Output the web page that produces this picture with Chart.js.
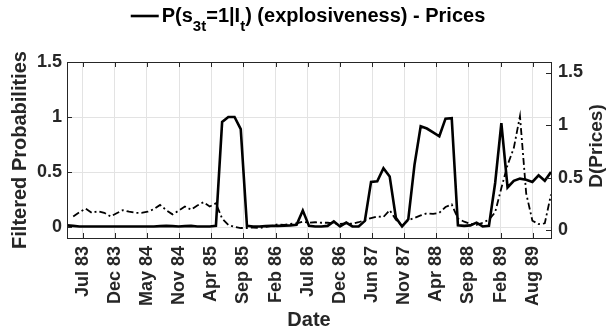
<!DOCTYPE html>
<html lang="en">
<head>
<meta charset="UTF-8">
<title>Filtered probabilities - Prices</title>
<script src="https://cdn.jsdelivr.net/npm/chart.js"></script>
<style>
  body { margin: 0; background: #fff; }
  canvas { display: block; }
</style>
</head>
<body>
<canvas id="chart" width="616" height="335"></canvas>
<script>
// monthly observations, index 0 = first month shown
const probExplosive = [
  0.015, 0.01, 0.005, 0.005, 0.005, 0.005, 0.005, 0.005, 0.005, 0.005,
  0.005, 0.005, 0.005, 0.005, 0.005, 0.008, 0.01, 0.008, 0.005, 0.008,
  0.01, 0.005, 0.005, 0.005, 0.01, 0.955, 1.0, 1.0, 0.89, 0.01,
  0.005, 0.005, 0.008, 0.01, 0.01, 0.012, 0.015, 0.02, 0.15, 0.01,
  0.005, 0.005, 0.01, 0.05, 0.005, 0.04, 0.005, 0.005, 0.055, 0.41,
  0.415, 0.535, 0.46, 0.085, 0.005, 0.07, 0.565, 0.915, 0.895, 0.86,
  0.825, 0.985, 0.99, 0.015, 0.01, 0.015, 0.04, 0.005, 0.01, 0.40,
  0.945, 0.36, 0.42, 0.44, 0.43, 0.41, 0.47, 0.42, 0.5
];
const dPrices = [
  null, 0.13, 0.17, 0.205, 0.165, 0.18, 0.165, 0.13, 0.16, 0.19,
  0.175, 0.165, 0.165, 0.175, 0.2, 0.24, 0.19, 0.15, 0.185, 0.225,
  0.195, 0.235, 0.265, 0.225, 0.255, 0.11, 0.05, 0.03, 0.02, 0.02,
  0.025, 0.02, 0.03, 0.04, 0.055, 0.05, 0.06, 0.065, 0.08, 0.07,
  0.075, 0.07, 0.07, 0.065, 0.06, 0.065, 0.06, 0.075, 0.095, 0.115,
  0.13, 0.125, 0.19, 0.1, 0.04, 0.095, 0.115, 0.14, 0.16, 0.155,
  0.165, 0.22, 0.245, 0.11, 0.08, 0.06, 0.05, 0.07, 0.1, 0.17,
  0.4, 0.62, 0.78, 1.085, 0.35, 0.09, 0.057, 0.065, 0.34
];
const dateTickLabels = ['Jul 83', 'Dec 83', 'May 84', 'Nov 84', 'Apr 85', 'Sep 85', 'Feb 86',
  'Jul 86', 'Dec 86', 'Jun 87', 'Nov 87', 'Apr 88', 'Sep 88', 'Feb 89', 'Aug 89'];
const dateTickPos = [2.53, 7.71, 12.89, 18.07, 23.25, 28.44, 33.62, 38.80, 43.98,
  49.16, 54.34, 59.52, 64.70, 69.88, 75.06];
const leftTicks = [0, 0.5, 1, 1.5];
const rightTicks = [0, 0.5, 1, 1.5];

const FONT = "'Liberation Sans', Arial, sans-serif";
const INK = '#262626';

const points = arr => arr.map((v, i) => ({ x: i, y: v }));

// legend line + text with subscripts, right ylabel, inward ticks and box
const decor = {
  id: 'decor',
  afterDatasetsDraw(chart) {
    const ctx = chart.ctx;
    const a = chart.chartArea;
    const x = chart.scales.x, y = chart.scales.y, y2 = chart.scales.y2;
    ctx.save();
    ctx.strokeStyle = INK;
    ctx.lineWidth = 1;
    ctx.beginPath();
    const tl = 5;
    x.ticks.forEach(t => {
      const px = Math.round(x.getPixelForValue(t.value)) + 0.5;
      ctx.moveTo(px, a.bottom); ctx.lineTo(px, a.bottom - tl);
      ctx.moveTo(px, a.top); ctx.lineTo(px, a.top + tl);
    });
    y.ticks.forEach(t => {
      const py = Math.round(y.getPixelForValue(t.value)) + 0.5;
      ctx.moveTo(a.left, py); ctx.lineTo(a.left + tl, py);
    });
    y2.ticks.forEach(t => {
      const py = Math.round(y2.getPixelForValue(t.value)) + 0.5;
      ctx.moveTo(a.right, py); ctx.lineTo(a.right - tl, py);
    });
    ctx.stroke();
    ctx.strokeRect(Math.round(a.left) + 0.5, Math.round(a.top) + 0.5,
      Math.round(a.right - a.left), Math.round(a.bottom - a.top));
    ctx.restore();
  },
  afterDraw(chart) {
    const ctx = chart.ctx;
    ctx.save();
    ctx.fillStyle = '#000';
    const big = 'bold 20px ' + FONT, small = 'bold 15px ' + FONT;
    const parts = [['P(s', big, 0], ['3t', small, 9], ['=1|I', big, 0], ['t', small, 9],
      [') (explosiveness) - Prices', big, 0]];
    let textW = 0;
    parts.forEach(p => { ctx.font = p[1]; textW += ctx.measureText(p[0]).width; });
    const lineLen = 28, gap = 3;
    let cx = 308 - (lineLen + gap + textW) / 2;
    const base = 22;
    ctx.strokeStyle = '#000';
    ctx.lineWidth = 2.6;
    ctx.beginPath();
    ctx.moveTo(cx, 16); ctx.lineTo(cx + lineLen, 16);
    ctx.stroke();
    cx += lineLen + gap;
    ctx.textBaseline = 'alphabetic';
    ctx.textAlign = 'left';
    parts.forEach(p => {
      ctx.font = p[1];
      ctx.fillText(p[0], cx, base + p[2]);
      cx += ctx.measureText(p[0]).width;
    });
    // right axis label, reading bottom to top
    ctx.fillStyle = INK;
    ctx.font = 'bold 19px ' + FONT;
    ctx.translate(597, 146);
    ctx.rotate(-Math.PI / 2);
    ctx.textAlign = 'center';
    ctx.textBaseline = 'middle';
    ctx.fillText('D(Prices)', 0, 0);
    ctx.restore();
  }
};

const tickFont = { family: FONT, size: 18, weight: 'bold' };

new Chart(document.getElementById('chart'), {
  type: 'line',
  data: {
    datasets: [
      {
        label: 'P(s3t=1|It) (explosiveness) - Prices',
        data: points(probExplosive),
        yAxisID: 'y',
        borderColor: '#000',
        borderWidth: 2.6,
        pointRadius: 0,
        tension: 0
      },
      {
        label: 'D(Prices)',
        data: points(dPrices),
        yAxisID: 'y2',
        borderColor: '#000',
        borderWidth: 1.8,
        borderDash: [7, 3, 2, 3],
        pointRadius: 0,
        tension: 0
      }
    ]
  },
  options: {
    responsive: false,
    animation: false,
    devicePixelRatio: 1,
    layout: { padding: { top: 62, left: 0, right: 0, bottom: 0 } },
    plugins: { legend: { display: false }, title: { display: false }, tooltip: { enabled: false } },
    scales: {
      x: {
        type: 'linear',
        min: 0,
        max: probExplosive.length - 1,
        afterBuildTicks: s => { s.ticks = dateTickPos.map(v => ({ value: v })); },
        afterFit: s => { s.height = 97; },
        ticks: {
          callback: (v, i) => dateTickLabels[i],
          minRotation: 90, maxRotation: 90,
          autoSkip: false,
          padding: 8,
          font: tickFont,
          color: INK
        },
        grid: { color: '#e3e3e3', drawTicks: false },
        border: { display: false },
        title: { display: true, text: 'Date', color: INK, padding: { top: 0, bottom: 3 },
          font: { family: FONT, size: 20, weight: 'bold' } }
      },
      y: {
        position: 'left',
        min: -0.1,
        max: 1.5,
        afterBuildTicks: s => { s.ticks = leftTicks.map(v => ({ value: v })); },
        afterFit: s => { s.width = 67; },
        ticks: { callback: v => String(v), padding: 5, font: tickFont, color: INK },
        grid: { color: '#e3e3e3', drawTicks: false },
        border: { display: false },
        title: { display: true, text: 'Filtered Probabilities', color: INK, padding: { top: 8, bottom: 0 },
          font: { family: FONT, size: 20, weight: 'bold' } }
      },
      y2: {
        position: 'right',
        min: -0.075,
        max: 1.6,
        afterBuildTicks: s => { s.ticks = rightTicks.map(v => ({ value: v })); },
        afterFit: s => { s.width = 65; },
        ticks: { callback: v => String(v), padding: 7, font: tickFont, color: INK },
        grid: { drawOnChartArea: false, drawTicks: false },
        border: { display: false }
      }
    }
  },
  plugins: [decor]
});
</script>
</body>
</html>
